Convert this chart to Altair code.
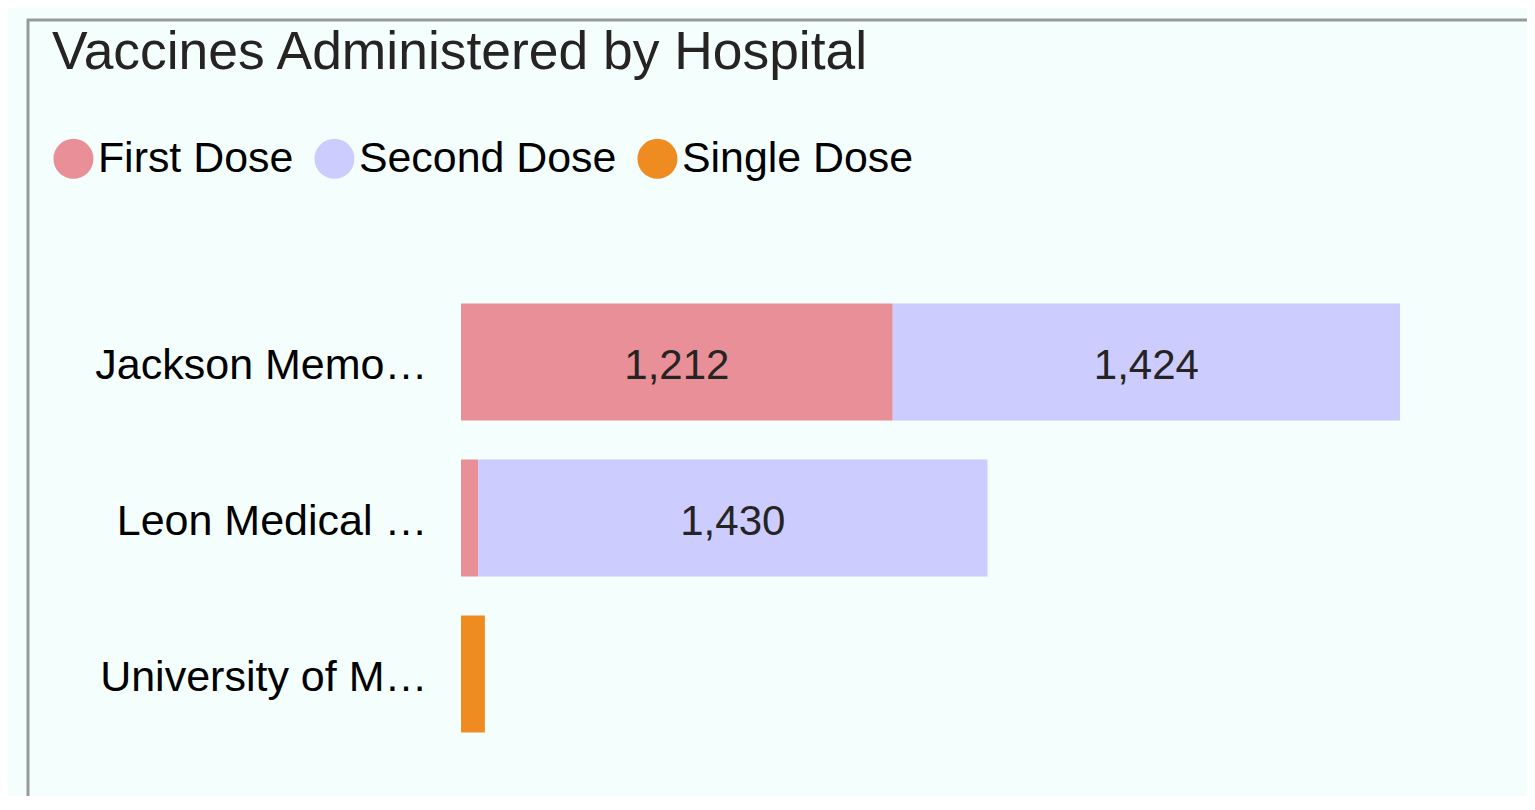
import altair as alt
import pandas as pd

hospitals = ["Jackson Memo…", "Leon Medical …", "University of M…"]
doses = ["First Dose", "Second Dose", "Single Dose"]
first_dose = [1212, 48, 0]
second_dose = [1424, 1430, 0]
single_dose = [0, 0, 67]
colors = ["#E88F97", "#CCCCFF", "#EE8B21"]
title_text = "Vaccines Administered by Hospital"

rows = []
for i, h in enumerate(hospitals):
    for k, (d, vals) in enumerate(zip(doses, [first_dose, second_dose, single_dose])):
        if vals[i] > 0:
            rows.append({"hospital": h, "dose": d, "value": vals[i], "order": k})
df = pd.DataFrame(rows)

FONT = "Liberation Sans"

base = alt.Chart(df).transform_stack(
    stack="value", groupby=["hospital"], as_=["x0", "x1"],
    sort=[alt.SortField("order", order="ascending")]
).transform_calculate(
    mid="(datum.x0 + datum.x1) / 2",
    label="format(datum.value, ',')"
)

yenc = alt.Y(
    "hospital:N", sort=hospitals, title=None,
    scale=alt.Scale(paddingInner=0.25, paddingOuter=0.125),
    axis=alt.Axis(labelFontSize=43, labelFont=FONT, labelColor="#000000",
                  ticks=False, domain=False, grid=False, labelPadding=34,
                  labelLimit=0, labelOffset=4),
)
xscale = alt.Scale(domain=[0, 2636], nice=False, zero=True)

bars = base.mark_bar().encode(
    y=yenc,
    x=alt.X("x0:Q", scale=xscale, axis=None),
    x2="x1:Q",
    color=alt.Color(
        "dose:N",
        scale=alt.Scale(domain=doses, range=colors),
        legend=alt.Legend(
            title=None, orient="none", direction="horizontal",
            legendX=-409, legendY=-147, symbolType="circle", symbolSize=1600,
            symbolStrokeWidth=0, symbolOpacity=1, labelFontSize=42.9,
            labelFont=FONT, labelColor="#000000", labelOffset=3,
            columnPadding=19, padding=0, labelLimit=0,
        ),
    ),
)

text = base.transform_filter("datum.value > 300").mark_text(
    fontSize=42, font=FONT, color="#252423", baseline="middle", dy=4
).encode(
    y=alt.Y("hospital:N", sort=hospitals),
    x=alt.X("mid:Q", scale=xscale),
    text="label:N",
)

one = alt.Data(values=[{"a": 1}])
vline = alt.Chart(one).mark_rule(color="#9a9a9a", strokeWidth=3).encode(
    x=alt.value(-433), y=alt.value(-265), y2=alt.value(530)
)
hline = alt.Chart(one).mark_rule(color="#9a9a9a", strokeWidth=3).encode(
    x=alt.value(-434), x2=alt.value(1080), y=alt.value(-264)
)
title = alt.Chart(one).mark_text(
    fontSize=53.4, font=FONT, color="#252423", align="left", baseline="alphabetic"
).encode(
    x=alt.value(-409), y=alt.value(-215), text=alt.value(title_text)
)

chart = alt.layer(vline, hline, title, bars, text).properties(
    width=939, height=468,
    padding={"left": 453, "top": 276, "right": 127, "bottom": 44},
    autosize=alt.AutoSizeParams(type="none"),
).configure(background="#F4FFFD").configure_view(stroke=None)

chart.save("out.html", embed_options={"renderer": "svg", "actions": False})
